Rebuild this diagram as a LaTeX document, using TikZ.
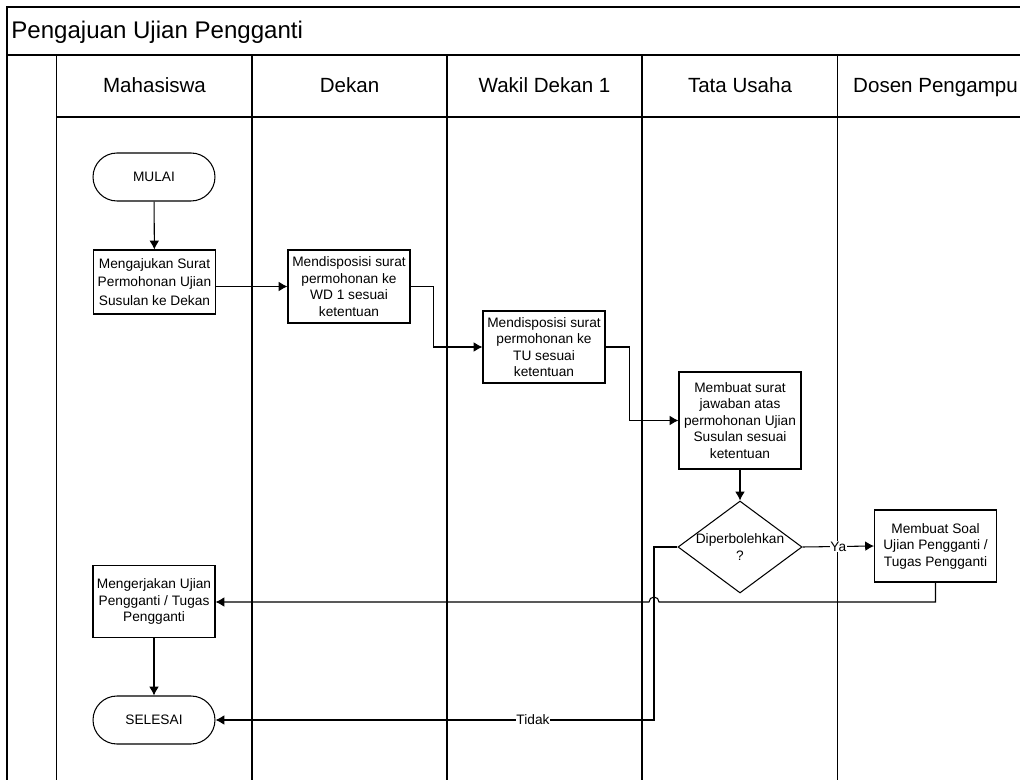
\documentclass[tikz,border=0pt]{standalone}
\usepackage{fontspec}
\setmainfont{Liberation Sans}
\usetikzlibrary{arrows.meta,shapes.geometric}

\begin{document}
\begin{tikzpicture}[x=0.02cm,y=-0.02cm]
 \newcommand{\laneBot}{790}
	\tikzset{proc/.style = {rectangle,draw,line width=0.6pt,minimum width=2.44cm,minimum height=1.44cm,inner sep=1pt,align=center,font=\fontsize{7.8}{9.4}\selectfont}}
	\tikzset{term/.style = {proc,rounded corners=0.48cm,minimum height=0.96cm}}
	\tikzset{decide/.style = {proc,diamond,aspect=1.35,inner sep=0pt,minimum width=2.48cm,minimum height=1.84cm}}
	\tikzset{lane/.style = {anchor=base,font=\fontsize{11.7}{14}\selectfont}}
	\tikzset{flowlabel/.style = {proc,draw=none,fill=white,minimum width=0pt,minimum height=0pt,inner sep=0.5pt}}
	\tikzstyle{edge} = [->,> = {Latex[length=5pt,width=5.5pt]},line width=0.6pt]
	\tikzstyle{frame} = [line width=0.6pt]
	\useasboundingbox (0,0) rectangle (1020,780);
	\clip (0,0) rectangle (1020,780);
	%frame and lanes
	\draw[frame] (1030,7) -- (7,7) -- (7,\laneBot);
	\draw[frame] (7,55) -- (1030,55);
	\draw[frame] (56.5,117) -- (1030,117);
	\draw[frame] (56.5,55) -- (56.5,\laneBot);
	\draw[frame] (252,55) -- (252,\laneBot);
	\draw[frame] (447,55) -- (447,\laneBot);
	\draw[frame] (642,55) -- (642,\laneBot);
	\draw[frame] (837.5,55) -- (837.5,\laneBot);
	\node[anchor=base west,inner sep=0pt,font=\fontsize{13.7}{16}\selectfont] (title) at (11,39) {Pengajuan Ujian Pengganti};
	\node[lane] (hM) at (154.5,93) {Mahasiswa};
	\node[lane] (hD) at (349.5,93) {Dekan};
	\node[lane] (hW) at (544.5,93) {Wakil Dekan 1};
	\node[lane] (hT) at (740,93) {Tata Usaha};
	\node[lane] (hP) at (935.5,93) {Dosen Pengampu};
	%Mahasiswa
	\node[term] (M0) at (154,177) {MULAI};
	\node[proc,minimum height=1.28cm,font=\fontsize{7.8}{10.4}\selectfont] (M1) at (154.5,282) {Mengajukan Surat\\Permohonan Ujian\\Susulan ke Dekan};
	\node[proc] (M2) at (154,601.5) {Mengerjakan Ujian\\Pengganti / Tugas\\Pengganti};
	\node[term] (M3) at (154,720) {SELESAI};
	%Dekan, WD 1
	\node[proc,minimum height=1.46cm] (D1) at (349,286.5) {Mendisposisi surat\\permohonan ke\\WD 1 sesuai\\ketentuan};
	\node[proc] (W1) at (544,347) {Mendisposisi surat\\permohonan ke\\TU sesuai\\ketentuan};
	%Tata Usaha
	\node[proc,minimum height=1.94cm] (T1) at (740,420.5) {Membuat surat\\jawaban atas\\permohonan Ujian\\Susulan sesuai\\ketentuan};
	\node[decide] (T2) at (740,547) {Diperbolehkan\\?};
	%Dosen Pengampu
	\node[proc] (P1) at (935.5,546) {Membuat Soal\\Ujian Pengganti /\\Tugas Pengganti};
	\coordinate (tb) at (654,720);
	%flow
	\draw[edge] (M0) to (M1);
	\draw[edge] (M1.east |- D1.west) to (D1.west);
	\draw[edge] (D1.east) -- ++(23,0) |- (W1.west);
	\draw[edge] (W1.east) -- ++(24,0) |- (T1.west);
	\draw[edge] (T1) to (T2);
	\draw[edge] (T2.east) -- node[flowlabel] (ya) {Ya} (P1.west);
	\draw[edge] (P1.south) |- (659,602) arc[start angle=0,end angle=-180,radius=5] -- (M2.east |- 0,602);
	\draw[edge] (T2.west) -| (tb) -- node[pos=0.276,flowlabel] (tidak) {Tidak} (M3.east);
	\draw[edge] (M2) to (M3);
\end{tikzpicture}
\end{document}
